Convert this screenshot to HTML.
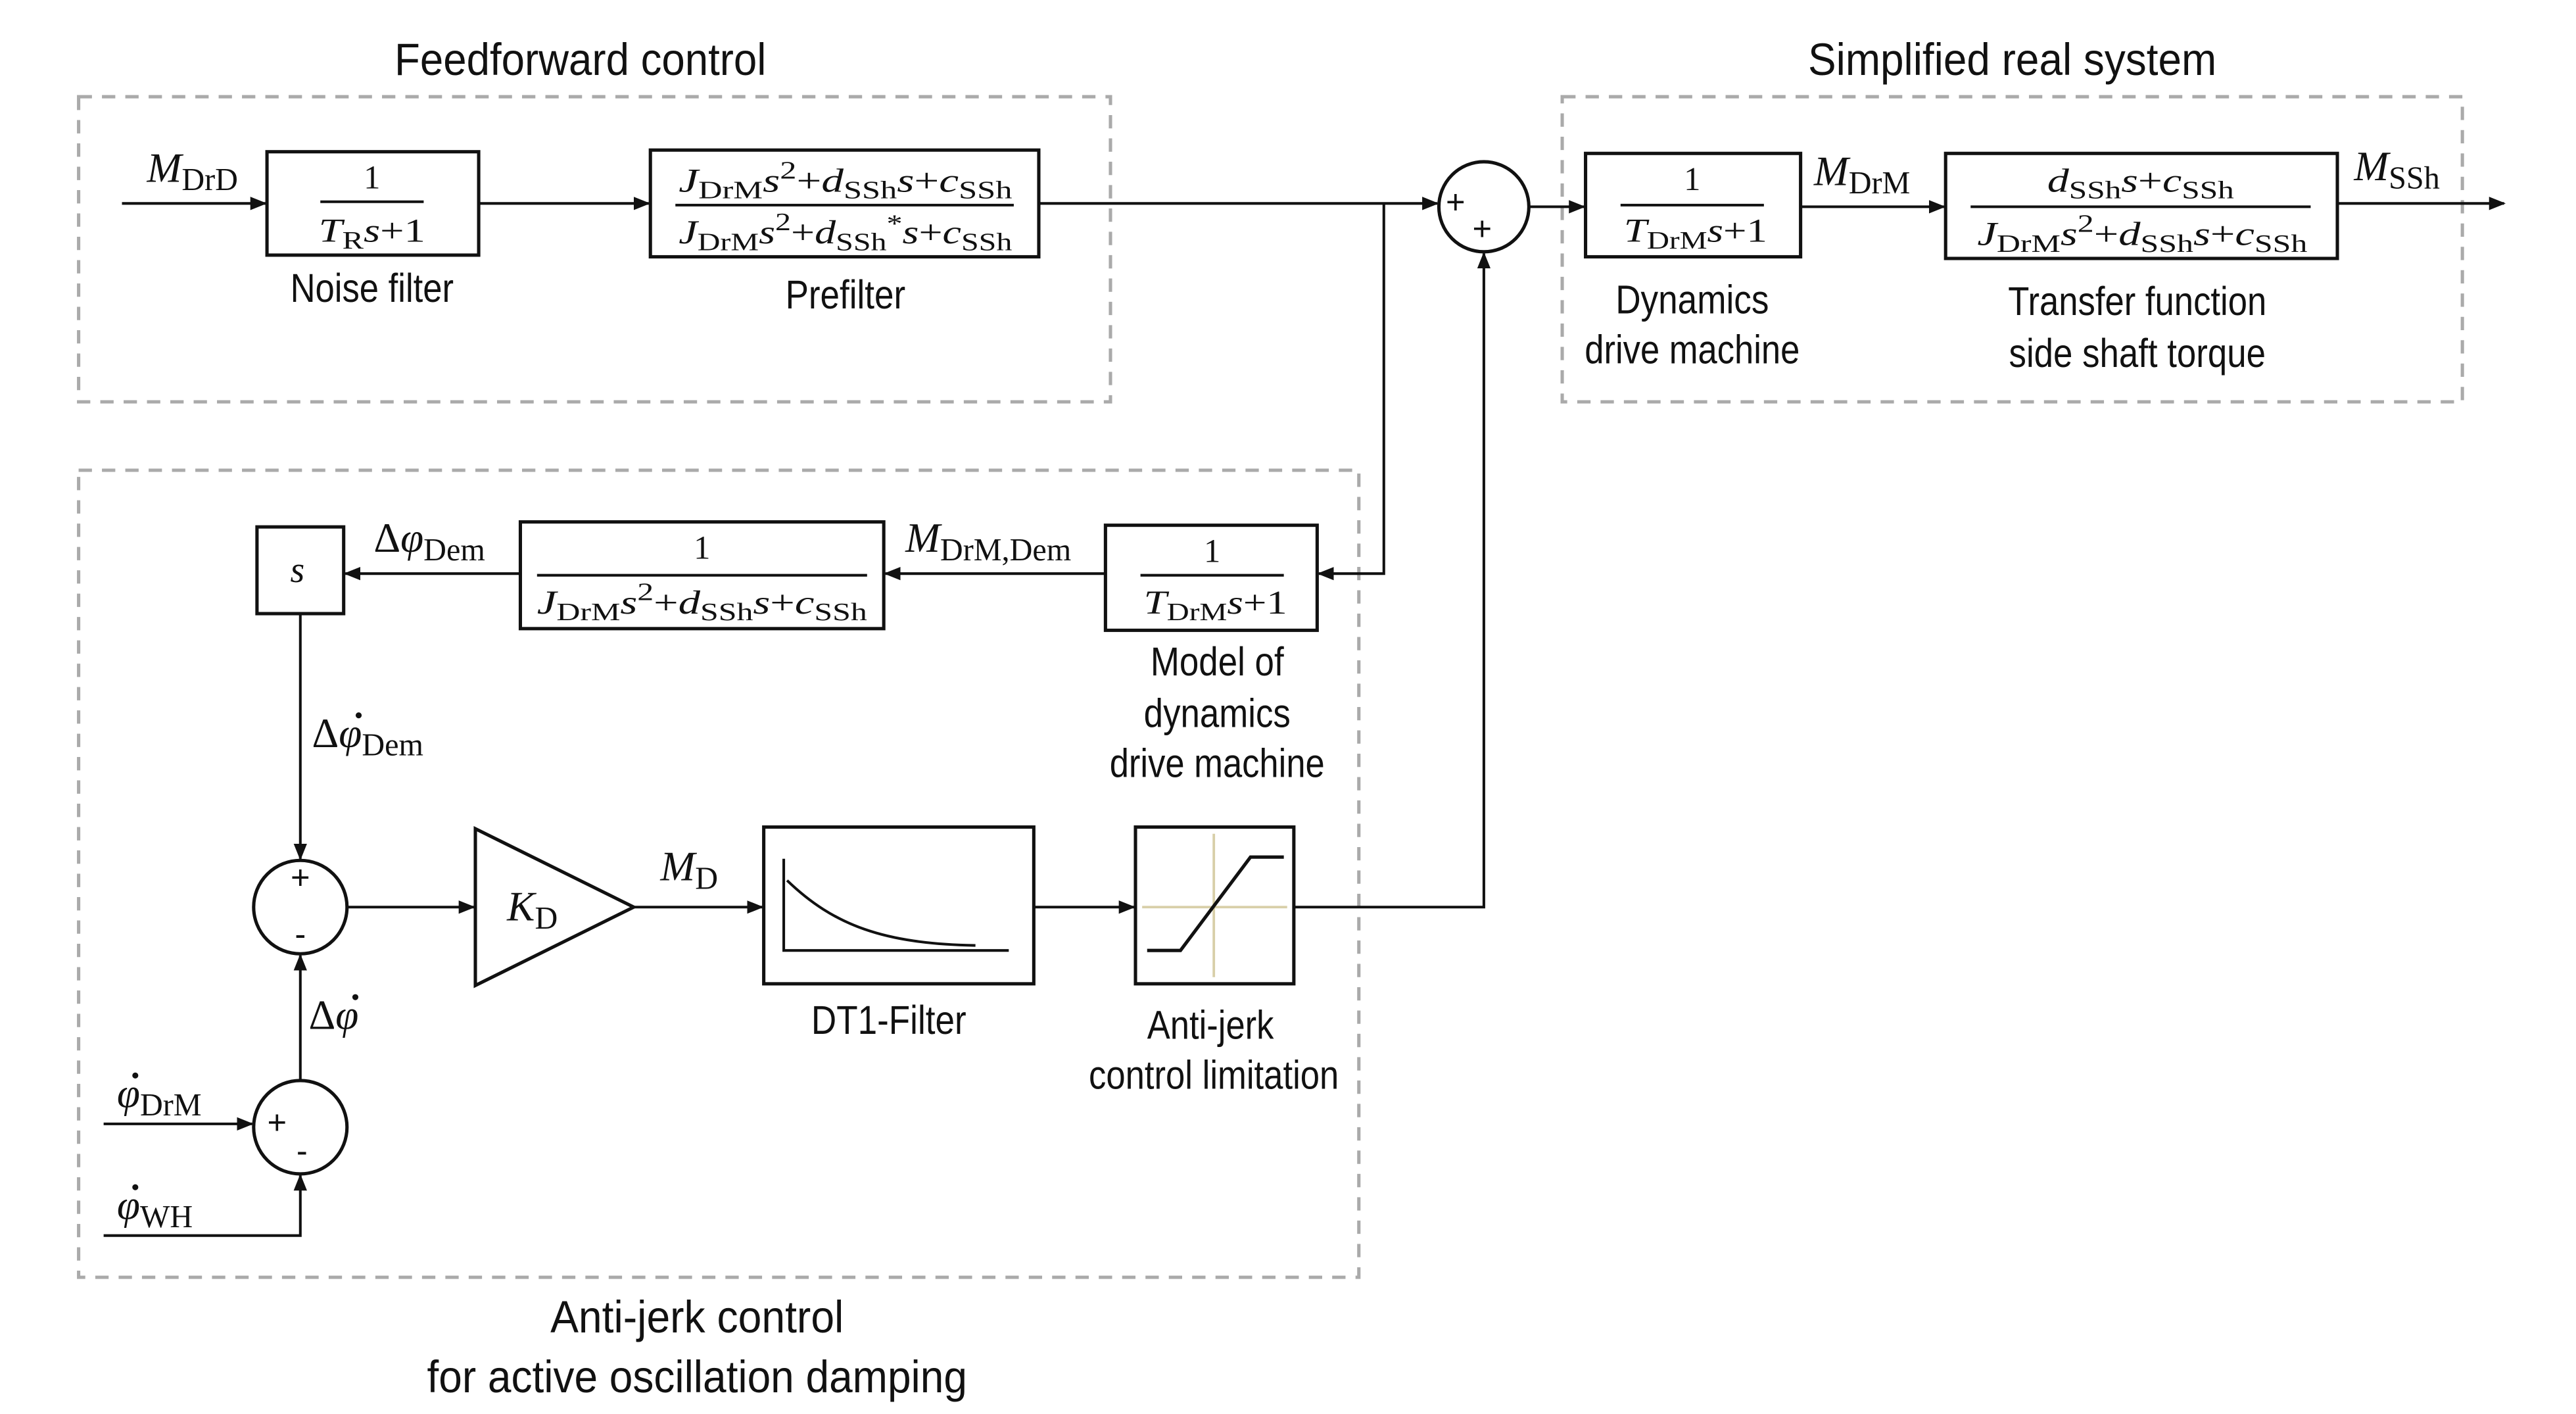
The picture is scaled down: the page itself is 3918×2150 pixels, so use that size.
<!DOCTYPE html>
<html><head><meta charset="utf-8"><style>
html,body{margin:0;padding:0;background:#fff;}
svg{display:block}
.t{font-family:"Liberation Sans Narrow","Liberation Sans",sans-serif;font-size:24px;fill:#111;text-anchor:middle}
.m{font-family:"Liberation Serif",serif;font-size:22px;fill:#111}
.i{font-style:italic}
.s{font-size:15px}
.f{font-family:"Liberation Serif",serif;font-size:20px;fill:#111;text-anchor:middle}
</style></head><body>
<svg width="3918" height="2150" viewBox="0 0 1545 848" xmlns="http://www.w3.org/2000/svg">
<defs><marker id="a" markerWidth="10" markerHeight="8" refX="9" refY="4" orient="auto" markerUnits="userSpaceOnUse"><path d="M0,0 L10,4 L0,8 z" fill="#111"/></marker></defs>
<rect width="1545" height="848" fill="#fff"/>
<g fill="none" stroke="#aaa" stroke-width="2" stroke-dasharray="8,6">
<rect x="47" y="58" width="619" height="183"/>
<rect x="937" y="58" width="540" height="183"/>
<rect x="47" y="282" width="768" height="484"/>
</g>
<text class="t" x="348" y="45" style="font-size:27px" textLength="223" lengthAdjust="spacingAndGlyphs">Feedforward control</text>
<text class="t" x="1207" y="45" style="font-size:27px" textLength="245" lengthAdjust="spacingAndGlyphs">Simplified real system</text>
<text class="t" x="418" y="799" style="font-size:27px" textLength="176" lengthAdjust="spacingAndGlyphs">Anti-jerk control</text>
<text class="t" x="418" y="835" style="font-size:27px" textLength="324" lengthAdjust="spacingAndGlyphs">for active oscillation damping</text>
<g fill="none" stroke="#111" stroke-width="2">
<rect x="160" y="91" width="127" height="62"/>
<rect x="390" y="90" width="233" height="64"/>
<circle cx="890" cy="124" r="27"/>
<rect x="951" y="92" width="129" height="62"/>
<rect x="1167" y="92" width="235" height="63"/>
<rect x="663" y="315" width="127" height="63"/>
<rect x="312" y="313" width="218" height="64"/>
<rect x="154" y="316" width="52" height="52"/>
<circle cx="180" cy="544" r="28"/>
<circle cx="180" cy="676" r="28"/>
<polygon points="285,497 285,591 380,544"/>
<rect x="458" y="496" width="162" height="94"/>
<rect x="681" y="496" width="95" height="94"/>
</g>
<g fill="none" stroke="#111" stroke-width="1.6">
<line x1="73" y1="122" x2="159" y2="122" marker-end="url(#a)"/>
<line x1="287" y1="122" x2="389" y2="122" marker-end="url(#a)"/>
<line x1="623" y1="122" x2="862" y2="122" marker-end="url(#a)"/>
<polyline points="830,122 830,344 791,344" marker-end="url(#a)"/>
<line x1="917" y1="124" x2="950" y2="124" marker-end="url(#a)"/>
<line x1="1080" y1="124" x2="1166" y2="124" marker-end="url(#a)"/>
<line x1="1402" y1="122" x2="1502" y2="122" marker-end="url(#a)"/>
<line x1="663" y1="344" x2="531" y2="344" marker-end="url(#a)"/>
<line x1="312" y1="344" x2="207" y2="344" marker-end="url(#a)"/>
<line x1="180" y1="368" x2="180" y2="515" marker-end="url(#a)"/>
<line x1="208" y1="544" x2="284" y2="544" marker-end="url(#a)"/>
<line x1="380" y1="544" x2="457" y2="544" marker-end="url(#a)"/>
<line x1="620" y1="544" x2="680" y2="544" marker-end="url(#a)"/>
<polyline points="776,544 890,544 890,152" marker-end="url(#a)"/>
<line x1="180" y1="648" x2="180" y2="573" marker-end="url(#a)"/>
<line x1="62" y1="674" x2="151" y2="674" marker-end="url(#a)"/>
<polyline points="62,741 180,741 180,705" marker-end="url(#a)"/>
<line x1="192" y1="121" x2="254" y2="121"/>
<line x1="405" y1="123" x2="608" y2="123"/>
<line x1="972" y1="123" x2="1058" y2="123"/>
<line x1="1182" y1="124" x2="1386" y2="124"/>
<line x1="684" y1="345" x2="770" y2="345"/>
<line x1="322" y1="345" x2="520" y2="345"/>
<polyline points="470,515 470,570 605,570"/>
<path d="M472,528 C500,555 530,566 585,567"/>
</g>
<g stroke="#d8cfa8" stroke-width="1.5"><line x1="728" y1="500" x2="728" y2="586"/><line x1="685" y1="544" x2="772" y2="544"/></g>
<polyline points="688,570 708,570 750,514 770,514" fill="none" stroke="#111" stroke-width="2"/>
<!-- fractions -->
<text class="f" x="223" y="113">1</text>
<text class="f" x="223" y="145" textLength="64" lengthAdjust="spacingAndGlyphs"><tspan class="i">T</tspan><tspan class="s" dy="4">R</tspan><tspan class="i" dy="-4">s</tspan>+1</text>
<text class="f" x="507" y="115" textLength="200" lengthAdjust="spacingAndGlyphs"><tspan class="i">J</tspan><tspan class="s" dy="4">DrM</tspan><tspan class="i" dy="-4">s</tspan><tspan class="s" dy="-8">2</tspan><tspan dy="8">+</tspan><tspan class="i">d</tspan><tspan class="s" dy="4">SSh</tspan><tspan class="i" dy="-4">s</tspan>+<tspan class="i">c</tspan><tspan class="s" dy="4">SSh</tspan></text>
<text class="f" x="507" y="146" textLength="200" lengthAdjust="spacingAndGlyphs"><tspan class="i">J</tspan><tspan class="s" dy="4">DrM</tspan><tspan class="i" dy="-4">s</tspan><tspan class="s" dy="-8">2</tspan><tspan dy="8">+</tspan><tspan class="i">d</tspan><tspan class="s" dy="4">SSh</tspan><tspan class="s" dy="-11">*</tspan><tspan class="i" dy="7">s</tspan>+<tspan class="i">c</tspan><tspan class="s" dy="4">SSh</tspan></text>
<text class="f" x="1015" y="114">1</text>
<text class="f" x="1017" y="145" textLength="86" lengthAdjust="spacingAndGlyphs"><tspan class="i">T</tspan><tspan class="s" dy="4">DrM</tspan><tspan class="i" dy="-4">s</tspan>+1</text>
<text class="f" x="1284" y="115" textLength="112" lengthAdjust="spacingAndGlyphs"><tspan class="i">d</tspan><tspan class="s" dy="4">SSh</tspan><tspan class="i" dy="-4">s</tspan>+<tspan class="i">c</tspan><tspan class="s" dy="4">SSh</tspan></text>
<text class="f" x="1285" y="147" textLength="198" lengthAdjust="spacingAndGlyphs"><tspan class="i">J</tspan><tspan class="s" dy="4">DrM</tspan><tspan class="i" dy="-4">s</tspan><tspan class="s" dy="-8">2</tspan><tspan dy="8">+</tspan><tspan class="i">d</tspan><tspan class="s" dy="4">SSh</tspan><tspan class="i" dy="-4">s</tspan>+<tspan class="i">c</tspan><tspan class="s" dy="4">SSh</tspan></text>
<text class="f" x="727" y="337">1</text>
<text class="f" x="729" y="368" textLength="86" lengthAdjust="spacingAndGlyphs"><tspan class="i">T</tspan><tspan class="s" dy="4">DrM</tspan><tspan class="i" dy="-4">s</tspan>+1</text>
<text class="f" x="421" y="335">1</text>
<text class="f" x="421" y="368" textLength="198" lengthAdjust="spacingAndGlyphs"><tspan class="i">J</tspan><tspan class="s" dy="4">DrM</tspan><tspan class="i" dy="-4">s</tspan><tspan class="s" dy="-8">2</tspan><tspan dy="8">+</tspan><tspan class="i">d</tspan><tspan class="s" dy="4">SSh</tspan><tspan class="i" dy="-4">s</tspan>+<tspan class="i">c</tspan><tspan class="s" dy="4">SSh</tspan></text>
<text class="m i" x="174" y="349" style="font-size:22px">s</text>
<!-- signal labels -->
<text class="m" x="88" y="109"><tspan class="i" style="font-size:25px">M</tspan><tspan dy="5" style="font-size:19px">DrD</tspan></text>
<text class="m" x="1088" y="111"><tspan class="i" style="font-size:25px">M</tspan><tspan dy="5" style="font-size:19px">DrM</tspan></text>
<text class="m" x="1412" y="108"><tspan class="i" style="font-size:25px">M</tspan><tspan dy="5" style="font-size:19px">SSh</tspan></text>
<text class="m" x="543" y="331"><tspan class="i" style="font-size:25px">M</tspan><tspan dy="5" style="font-size:19px">DrM,Dem</tspan></text>
<text class="m" x="224" y="331"><tspan style="font-size:25px">Δ</tspan><tspan class="i" style="font-size:25px">φ</tspan><tspan dy="5" style="font-size:19px">Dem</tspan></text>
<text class="m" x="187" y="448"><tspan style="font-size:25px">Δ</tspan><tspan class="i" style="font-size:25px">φ</tspan><tspan dy="5" style="font-size:19px">Dem</tspan></text>
<text class="m" x="185" y="617"><tspan style="font-size:25px">Δ</tspan><tspan class="i" style="font-size:25px">φ</tspan></text>
<text class="m" x="70" y="664"><tspan class="i" style="font-size:25px">φ</tspan><tspan dy="5" style="font-size:19px">DrM</tspan></text>
<text class="m" x="70" y="731"><tspan class="i" style="font-size:25px">φ</tspan><tspan dy="5" style="font-size:19px">WH</tspan></text>
<g fill="#111"><circle cx="215" cy="429" r="1.8"/><circle cx="213" cy="598" r="1.8"/><circle cx="81" cy="645" r="1.8"/><circle cx="81" cy="712" r="1.8"/></g>
<text class="m" x="396" y="528"><tspan class="i" style="font-size:25px">M</tspan><tspan dy="5" style="font-size:19px">D</tspan></text>
<text class="m" x="304" y="552"><tspan class="i" style="font-size:25px">K</tspan><tspan dy="5" style="font-size:19px">D</tspan></text>
<!-- sum signs -->
<g class="t" style="font-size:20px;font-family:'Liberation Sans',sans-serif">
<text x="873" y="128">+</text><text x="889" y="144">+</text>
<text x="180" y="533">+</text><text x="180" y="567">-</text>
<text x="166" y="680">+</text><text x="181" y="697">-</text>
</g>
<!-- captions -->
<text class="t" x="223" y="181" textLength="98" lengthAdjust="spacingAndGlyphs">Noise filter</text>
<text class="t" x="507" y="185" textLength="72" lengthAdjust="spacingAndGlyphs">Prefilter</text>
<text class="t" x="1015" y="188" textLength="92" lengthAdjust="spacingAndGlyphs">Dynamics</text>
<text class="t" x="1015" y="218" textLength="129" lengthAdjust="spacingAndGlyphs">drive machine</text>
<text class="t" x="1282" y="189" textLength="155" lengthAdjust="spacingAndGlyphs">Transfer function</text>
<text class="t" x="1282" y="220" textLength="154" lengthAdjust="spacingAndGlyphs">side shaft torque</text>
<text class="t" x="730" y="405" textLength="80" lengthAdjust="spacingAndGlyphs">Model of</text>
<text class="t" x="730" y="436" textLength="88" lengthAdjust="spacingAndGlyphs">dynamics</text>
<text class="t" x="730" y="466" textLength="129" lengthAdjust="spacingAndGlyphs">drive machine</text>
<text class="t" x="533" y="620" textLength="93" lengthAdjust="spacingAndGlyphs">DT1-Filter</text>
<text class="t" x="726" y="623" textLength="76" lengthAdjust="spacingAndGlyphs">Anti-jerk</text>
<text class="t" x="728" y="653" textLength="150" lengthAdjust="spacingAndGlyphs">control limitation</text>
</svg>
</body></html>
